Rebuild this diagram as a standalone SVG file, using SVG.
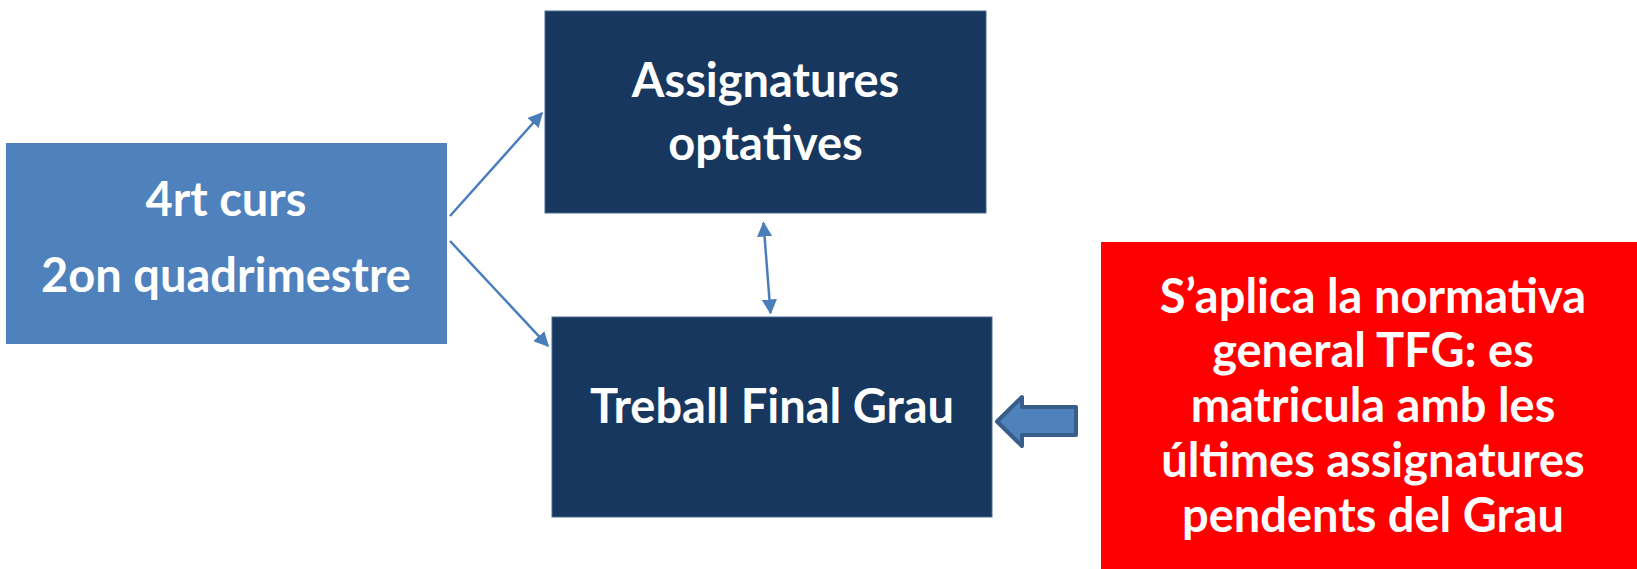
<svg xmlns="http://www.w3.org/2000/svg" width="1637" height="569" viewBox="0 0 1637 569">
<style>
.t{font-family:Lato,"Open Sans","Liberation Sans",sans-serif;font-weight:bold;font-size:47px;fill:#fff;text-anchor:middle}
.dark{fill:#17375E;stroke:#4A6B95;stroke-width:1}
.con{stroke:#4A7EBB;stroke-width:2.5;fill:none}
</style>
<defs>
<marker id="ah" viewBox="0 0 10 10" refX="9" refY="5" markerWidth="6" markerHeight="6" orient="auto-start-reverse" markerUnits="strokeWidth">
<path d="M0,0 L10,5 L0,10 z" fill="#4A7EBB"/>
</marker>
</defs>
<rect width="1637" height="569" fill="#fff"/>
<g id="connectors">
<line class="con" x1="450" y1="216" x2="542" y2="113" marker-end="url(#ah)"/>
<line class="con" x1="450" y1="241" x2="548" y2="346" marker-end="url(#ah)"/>
<line class="con" x1="763.5" y1="223" x2="770.5" y2="313" marker-start="url(#ah)" marker-end="url(#ah)"/>
<path d="M1076,407 L1022,407 L1022,397 L997,421.5 L1022,446 L1022,435 L1076,435 Z" fill="#4F81BD" stroke="#385D8A" stroke-width="4" stroke-linejoin="round"/>
</g>
<g id="node-4rt">
<rect x="6" y="143" width="441" height="201" fill="#4F81BD"/>
<text class="t" x="226" y="216">4rt curs</text>
<text class="t" x="226" y="291.5">2on quadrimestre</text>
</g>
<g id="node-optatives">
<rect class="dark" x="545" y="11" width="441" height="202"/>
<text class="t" x="765.5" y="97">Assignatures</text>
<text class="t" x="765.5" y="160">optatives</text>
</g>
<g id="node-tfg">
<rect class="dark" x="552" y="317" width="440" height="200"/>
<text class="t" x="772" y="422.5">Treball Final Grau</text>
</g>
<g id="node-normativa">
<rect x="1101" y="242" width="540" height="330" fill="#FF0000"/>
<text class="t" x="1373" y="312.5">S’aplica la normativa</text>
<text class="t" x="1373" y="367">general TFG: es</text>
<text class="t" x="1373" y="421.5">matricula amb les</text>
<text class="t" x="1373" y="476.5">últimes assignatures</text>
<text class="t" x="1373" y="531.5">pendents del Grau</text>
</g>
</svg>
